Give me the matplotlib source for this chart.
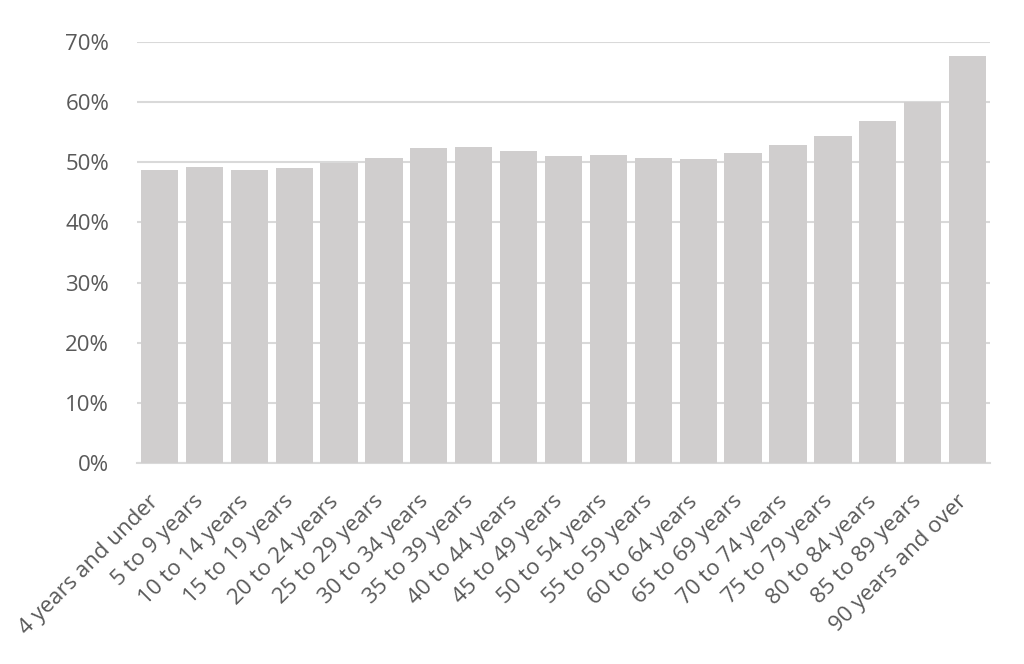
import matplotlib
matplotlib.use("Agg")
import matplotlib.pyplot as plt
import matplotlib.transforms as mtransforms
from matplotlib.ticker import FuncFormatter

categories = ["4 years and under", "5 to 9 years", "10 to 14 years", "15 to 19 years",
              "20 to 24 years", "25 to 29 years", "30 to 34 years", "35 to 39 years",
              "40 to 44 years", "45 to 49 years", "50 to 54 years", "55 to 59 years",
              "60 to 64 years", "65 to 69 years", "70 to 74 years", "75 to 79 years",
              "80 to 84 years", "85 to 89 years", "90 years and over"]
values = [48.8, 49.2, 48.8, 49.0, 49.9, 50.7, 52.4, 52.6, 51.8, 51.0, 51.2, 50.7,
          50.5, 51.5, 52.8, 54.3, 56.9, 60.0, 67.7]
yticks = [0, 10, 20, 30, 40, 50, 60, 70]

plt.rcParams['font.family'] = ['Open Sans', 'DejaVu Sans']
fig = plt.figure(figsize=(10.24, 6.64), dpi=100)
ax = fig.add_axes([0.1338, 0.3027, 0.8330, 0.6340])
x = list(range(len(categories)))
ax.bar(x, values, width=0.83, color="#d0cece", zorder=3)
ax.set_xlim(-0.5, len(categories) - 0.5)
ax.set_ylim(0, 70)
ax.set_yticks(yticks)
ax.yaxis.set_major_formatter(FuncFormatter(lambda v, p: f"{v:.0f}%"))
ax.grid(axis="y", color="#d9d9d9", linewidth=1.5, zorder=0)
for s in ["top", "right", "left"]:
    ax.spines[s].set_visible(False)
ax.spines["bottom"].set_color("#d9d9d9")
ax.spines["bottom"].set_linewidth(1.5)
ax.set_xticks(x)
ax.set_xticklabels(categories, rotation=45, ha="right", va="center", rotation_mode="anchor")
ax.tick_params(axis="both", length=0, labelsize=16, colors="#595959")
ax.tick_params(axis="x", pad=24)
ax.tick_params(axis="y", pad=20)
offset = mtransforms.ScaledTranslation(-4 / 100, -2 / 100, fig.dpi_scale_trans)
for lbl in ax.get_xticklabels():
    lbl.set_transform(lbl.get_transform() + offset)
fig.savefig("out.png", dpi=100)
